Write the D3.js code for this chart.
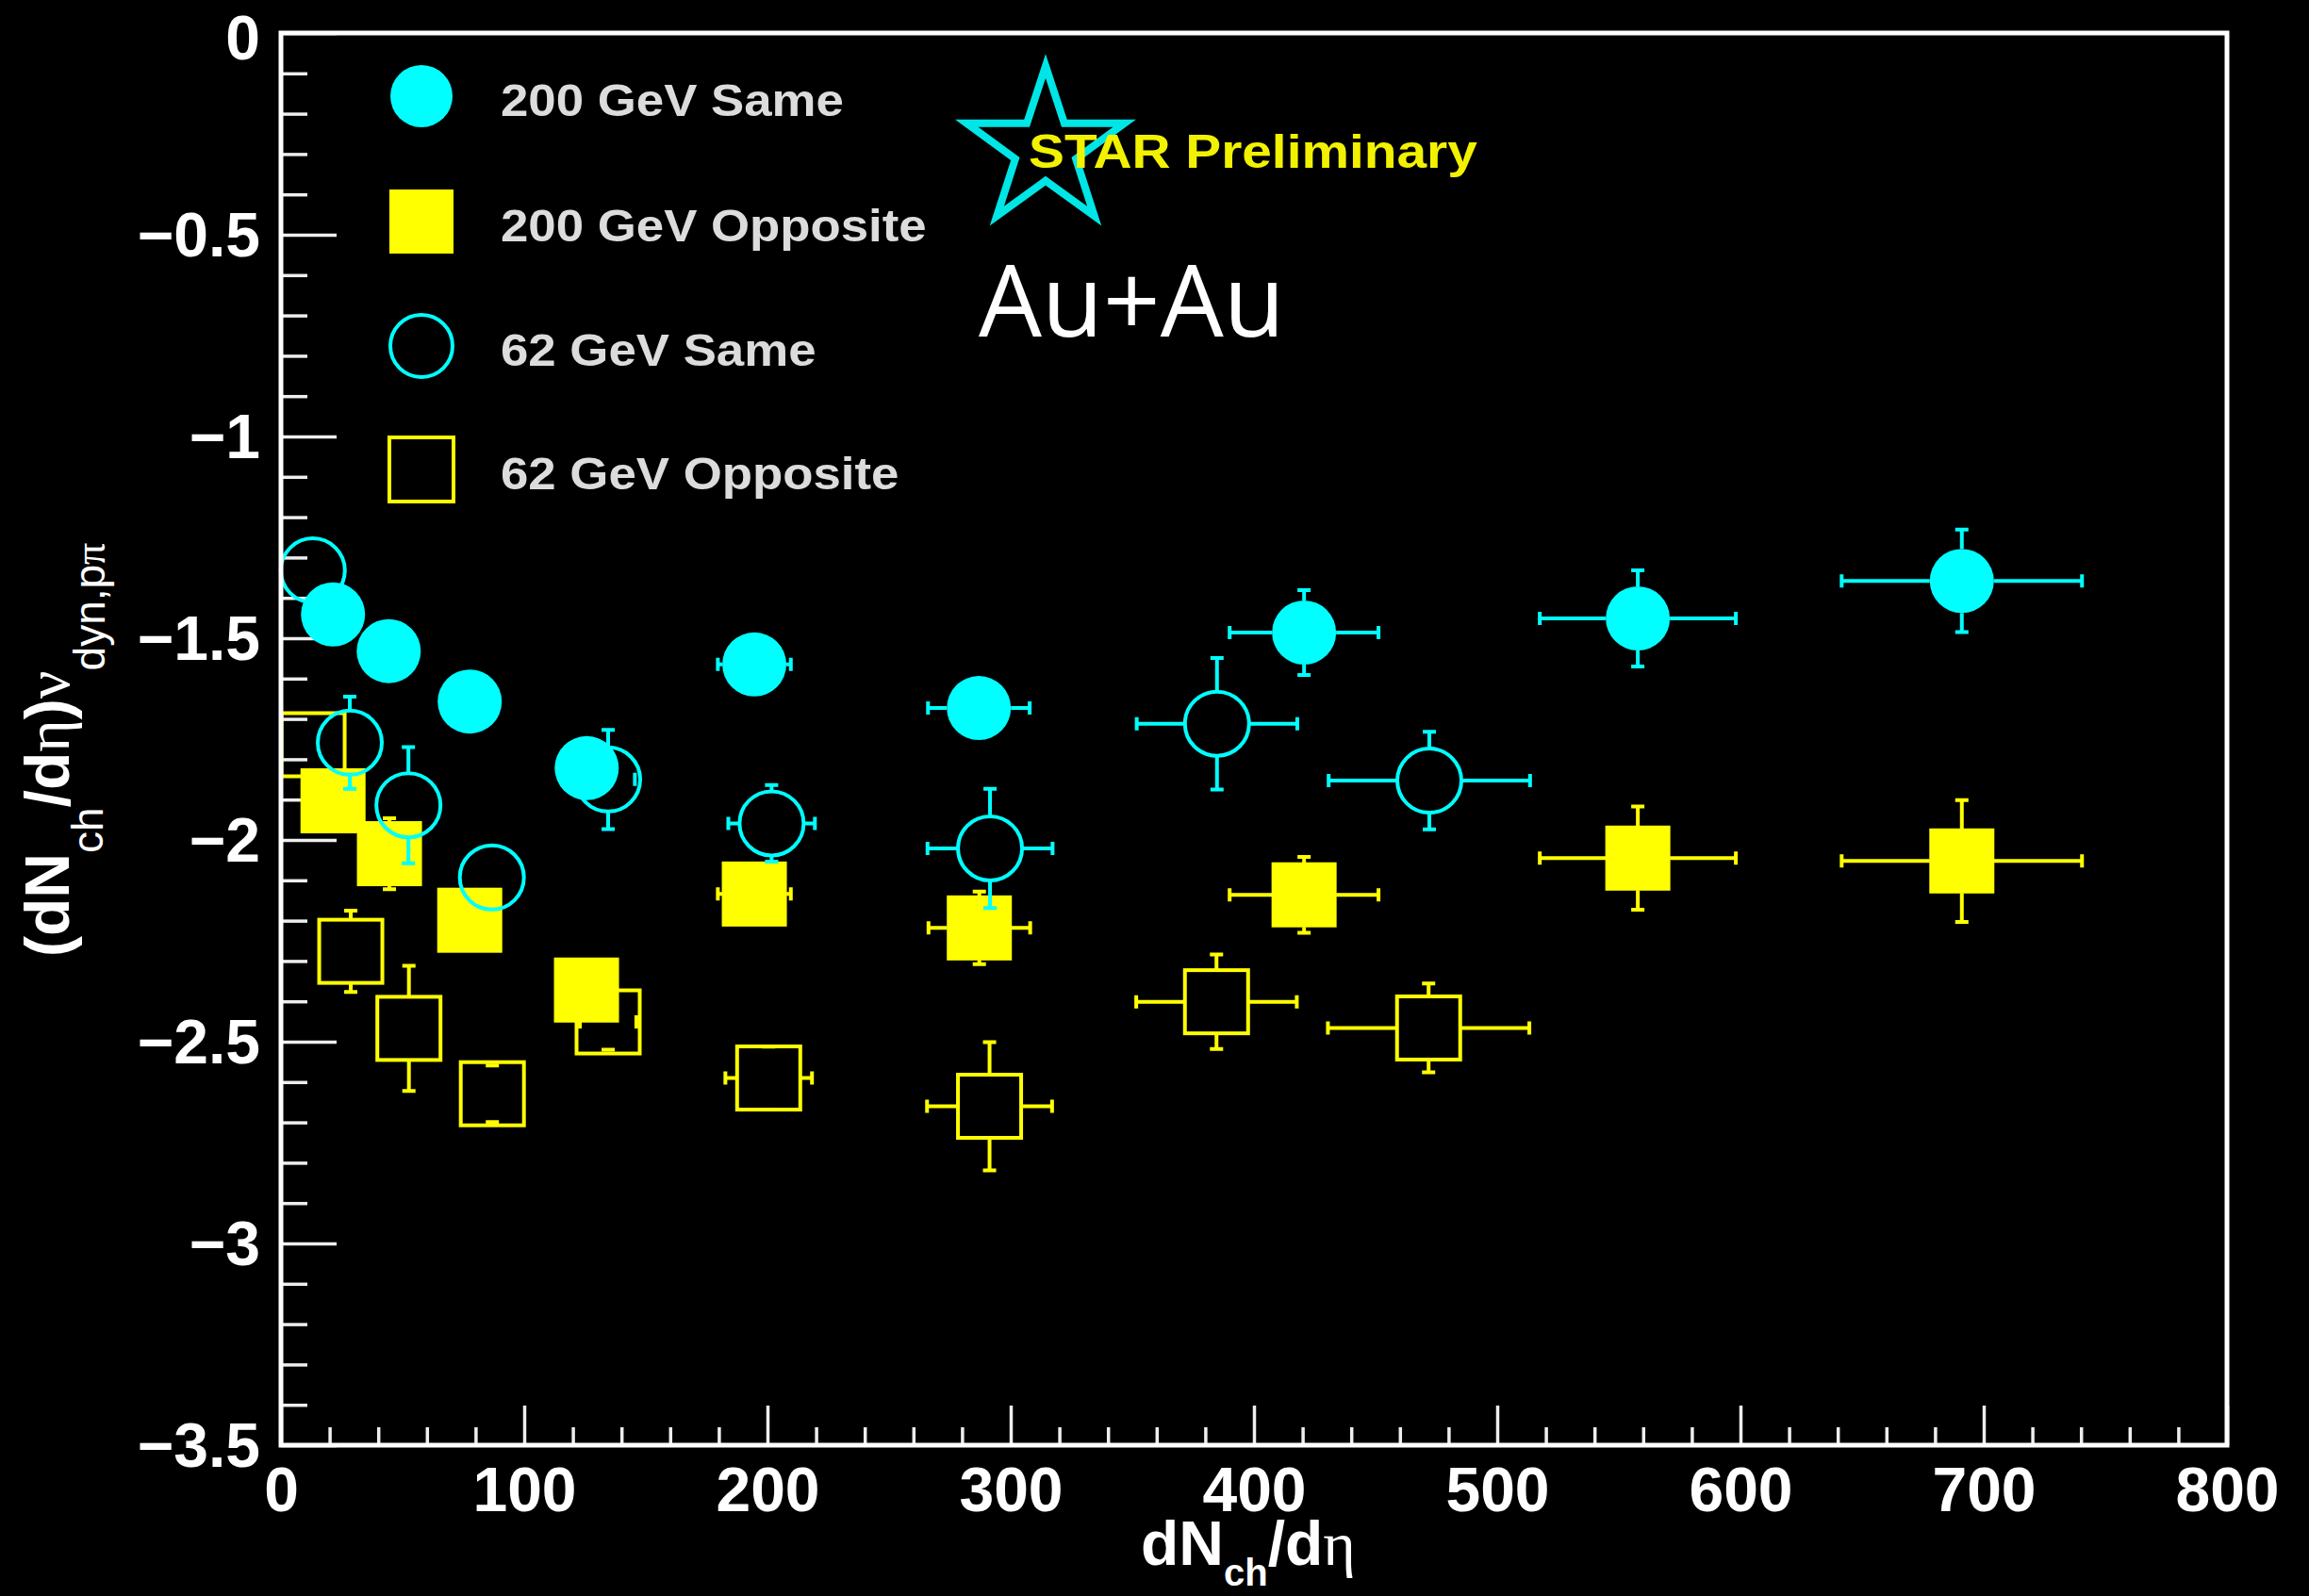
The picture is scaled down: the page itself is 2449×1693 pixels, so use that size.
<!DOCTYPE html>
<html>
<head>
<meta charset="utf-8">
<script src="https://cdn.jsdelivr.net/npm/d3@7"></script>
<style>
  body { margin: 0; background: #000; }
  svg { display: block; }
</style>
</head>
<body>
<div id="chart"></div>
<script>
// 200 GeV, same-sign pairs (filled circles)
const x200Same  = [21.4, 44.3, 77.6, 125.7, 194.6, 286.9, 420.6, 557.8, 691.0];
const y200Same  = [-1.441, -1.532, -1.657, -1.822, -1.565, -1.673, -1.486, -1.451, -1.358];
const ex200Same = [0, 0, 0, 0, 15, 20.9, 30.6, 40.3, 49.4];
const ey200Same = [0.04, 0.04, 0.04, 0.04, 0.05, 0.05, 0.105, 0.119, 0.127];

// 200 GeV, opposite-sign pairs (filled squares)
const x200Opp  = [21.4, 44.6, 77.6, 125.6, 194.6, 287.1, 420.6, 557.8, 691.0];
const y200Opp  = [-1.903, -2.034, -2.199, -2.372, -2.134, -2.218, -2.136, -2.045, -2.052];
const ex200Opp = [0, 0, 0, 0, 15, 20.9, 30.6, 40.3, 49.4];
const ey200Opp = [0.05, 0.088, 0.05, 0.05, 0.05, 0.09, 0.094, 0.128, 0.151];

// 62 GeV, same-sign pairs (open circles)
const x62Same  = [13.1, 28.3, 52.4, 86.7, 134.5, 201.7, 291.5, 384.8, 472.1];
const y62Same  = [-1.332, -1.759, -1.914, -2.093, -1.850, -1.959, -2.021, -1.712, -1.853];
const ex62Same = [0, 0, 0, 0, 11, 17.8, 25.7, 33, 41.4];
const ey62Same = [0, 0.114, 0.144, 0, 0.123, 0.095, 0.148, 0.163, 0.121];

// 62 GeV, opposite-sign pairs (open squares)
const x62Opp  = [13.2, 28.7, 52.6, 86.9, 134.5, 200.5, 291.3, 384.6, 471.8];
const y62Opp  = [-1.764, -2.276, -2.467, -2.629, -2.451, -2.590, -2.660, -2.401, -2.466];
const ex62Opp = [0, 0, 0, 0, 11.6, 17.8, 25.7, 33, 41.4];
const ey62Opp = [0, 0.101, 0.155, 0.07, 0.069, 0.078, 0.159, 0.117, 0.110];

const legendLabels = ["200 GeV Same", "200 GeV Opposite", "62 GeV Same", "62 GeV Opposite"];

const W = 2449, H = 1693;
const plot = { left: 298, right: 2362, top: 35, bottom: 1533 };
const CYAN = "#00ffff", YELLOW = "#ffff00";
const SANS = "'Liberation Sans', Arial, Helvetica, sans-serif";
const SERIF = "'Liberation Serif', 'DejaVu Serif', serif";

const svg = d3.select("#chart").append("svg")
    .attr("width", W)
    .attr("height", H)
    .style("background", "#000");

const x = d3.scaleLinear().domain([0, 800]).range([plot.left, plot.right]);
const y = d3.scaleLinear().domain([-3.5, 0]).range([plot.bottom, plot.top]);

// minor ticks
svg.append("g")
    .attr("transform", `translate(0,${plot.bottom})`)
    .call(d3.axisBottom(x).tickValues(d3.range(0, 801, 20).filter(d => d % 100 !== 0))
        .tickSize(-19).tickSizeOuter(0).tickFormat(""))
    .call(g => g.select(".domain").remove())
    .call(g => g.selectAll("line").attr("stroke", "#eee").attr("stroke-width", 3.5));

svg.append("g")
    .attr("transform", `translate(${plot.left},0)`)
    .call(d3.axisLeft(y).tickValues(d3.range(-35, 1).map(d => d / 10).filter(d => Math.abs(d * 2 - Math.round(d * 2)) > 1e-6))
        .tickSize(-28).tickSizeOuter(0).tickFormat(""))
    .call(g => g.select(".domain").remove())
    .call(g => g.selectAll("line").attr("stroke", "#eee").attr("stroke-width", 3.5));

// major ticks + labels
const fmt = d3.format("~g");
svg.append("g")
    .attr("transform", `translate(0,${plot.bottom})`)
    .call(d3.axisBottom(x).tickValues(d3.range(0, 801, 100))
        .tickSize(-42).tickSizeOuter(0).tickPadding(23).tickFormat(fmt))
    .call(g => g.select(".domain").remove())
    .call(g => g.selectAll("line").attr("stroke", "#eee").attr("stroke-width", 3.5))
    .call(g => g.selectAll("text").attr("fill", "#fff")
        .style("font-family", SANS).style("font-weight", "bold").style("font-size", "66px"));

svg.append("g")
    .attr("transform", `translate(${plot.left},0)`)
    .call(d3.axisLeft(y).tickValues(d3.range(0, 8).map(d => -d / 2))
        .tickSize(-59).tickSizeOuter(0).tickPadding(22).tickFormat(fmt))
    .call(g => g.select(".domain").remove())
    .call(g => g.selectAll("line").attr("stroke", "#eee").attr("stroke-width", 3.5))
    .call(g => g.selectAll("text").attr("fill", "#fff")
        .attr("dy", d => d === 0 ? "0.42em" : "0.34em")
        .style("font-family", SANS).style("font-weight", "bold").style("font-size", "66px"));

// data series
const dataLayer = svg.append("g");

function drawSeries(xs, ys, exs, eys, opt) {
    const pts = xs.map((d, i) => ({ x: d, y: ys[i], ex: exs[i], ey: eys[i] }));
    const g = dataLayer.append("g");
    const half = opt.half;
    const cap = 7;

    g.selectAll("path.err")
        .data(pts)
        .join("path")
        .attr("class", "err")
        .attr("fill", "none")
        .attr("stroke", opt.color)
        .attr("stroke-width", 4)
        .attr("d", p => {
            const cx = x(p.x), cy = y(p.y);
            const ex = x(p.x + p.ex) - cx;
            const ey = cy - y(p.y + p.ey);
            let s = "";
            if (p.ex > 0) {
                if (ex > half) s += `M${cx - ex},${cy}H${cx - half}M${cx + half},${cy}H${cx + ex}`;
                s += `M${cx - ex},${cy - cap}V${cy + cap}M${cx + ex},${cy - cap}V${cy + cap}`;
            }
            if (p.ey > 0) {
                if (ey > half) s += `M${cx},${cy - ey}V${cy - half}M${cx},${cy + half}V${cy + ey}`;
                s += `M${cx - cap},${cy - ey}H${cx + cap}M${cx - cap},${cy + ey}H${cx + cap}`;
            }
            return s || null;
        });

    if (opt.shape === "circle") {
        g.selectAll("circle.mk")
            .data(pts)
            .join("circle")
            .attr("class", "mk")
            .attr("cx", p => x(p.x))
            .attr("cy", p => y(p.y))
            .attr("r", 34)
            .attr("fill", opt.filled ? opt.color : "none")
            .attr("stroke", opt.filled ? "none" : opt.color)
            .attr("stroke-width", 4);
    } else {
        const s = opt.filled ? 69 : 67;
        g.selectAll("rect.mk")
            .data(pts)
            .join("rect")
            .attr("class", "mk")
            .attr("x", p => x(p.x) - s / 2)
            .attr("y", p => y(p.y) - s / 2)
            .attr("width", s)
            .attr("height", s)
            .attr("fill", opt.filled ? opt.color : "none")
            .attr("stroke", opt.filled ? "none" : opt.color)
            .attr("stroke-width", 4);
    }
}

drawSeries(x62Opp, y62Opp, ex62Opp, ey62Opp, { shape: "square", filled: false, color: YELLOW, half: 34 });
drawSeries(x200Opp, y200Opp, ex200Opp, ey200Opp, { shape: "square", filled: true, color: YELLOW, half: 34 });
drawSeries(x62Same, y62Same, ex62Same, ey62Same, { shape: "circle", filled: false, color: CYAN, half: 34 });
drawSeries(x200Same, y200Same, ex200Same, ey200Same, { shape: "circle", filled: true, color: CYAN, half: 34 });

// frame
svg.append("rect")
    .attr("x", plot.left)
    .attr("y", plot.top)
    .attr("width", plot.right - plot.left)
    .attr("height", plot.bottom - plot.top)
    .attr("fill", "none")
    .attr("stroke", "#fff")
    .attr("stroke-width", 5);

// axis titles
const xt = svg.append("text")
    .attr("x", 1210)
    .attr("y", 1660)
    .attr("fill", "#fff")
    .style("font-family", SANS)
    .style("font-weight", "bold")
    .style("font-size", "66px");
xt.append("tspan").text("dN");
xt.append("tspan").attr("dy", 22).style("font-size", "40px").text("ch");
xt.append("tspan").attr("dy", -22).text("/d");
xt.append("tspan").style("font-family", SERIF).style("font-weight", "normal").text("η");

const yt = svg.append("text")
    .attr("transform", "translate(73,1015) rotate(-90)")
    .attr("fill", "#fff")
    .style("font-family", SANS)
    .style("font-weight", "bold")
    .style("font-size", "66px");
yt.append("tspan").text("(dN");
yt.append("tspan").attr("dy", 36).style("font-size", "46px").style("font-weight", "normal").text("ch");
yt.append("tspan").attr("dy", -36).text("/d");
yt.append("tspan").style("font-family", SERIF).style("font-weight", "normal").text("η");
yt.append("tspan").text(")");
yt.append("tspan").style("font-family", SERIF).style("font-weight", "normal").text("ν");
yt.append("tspan").attr("dy", 38).style("font-size", "46px").style("font-weight", "normal").text("dyn,p");
yt.append("tspan").style("font-size", "46px").style("font-family", SERIF).style("font-weight", "normal").text("π");

// legend
const legendY = [102, 235, 367, 498];
const legendStyle = [
    { shape: "circle", filled: true, color: CYAN },
    { shape: "square", filled: true, color: YELLOW },
    { shape: "circle", filled: false, color: CYAN },
    { shape: "square", filled: false, color: YELLOW }
];
const legend = svg.append("g");
legendLabels.forEach((label, i) => {
    const st = legendStyle[i];
    const cy = legendY[i];
    if (st.shape === "circle") {
        legend.append("circle")
            .attr("cx", 447).attr("cy", cy).attr("r", 33)
            .attr("fill", st.filled ? st.color : "none")
            .attr("stroke", st.filled ? "none" : st.color)
            .attr("stroke-width", 4);
    } else {
        legend.append("rect")
            .attr("x", 447 - 34).attr("y", cy - 34).attr("width", 68).attr("height", 68)
            .attr("fill", st.filled ? st.color : "none")
            .attr("stroke", st.filled ? "none" : st.color)
            .attr("stroke-width", 4);
    }
    legend.append("text")
        .attr("transform", `translate(531,${cy + 21}) scale(1.1,1)`)
        .attr("fill", "#dcdcdc")
        .style("font-family", SANS)
        .style("font-weight", "bold")
        .style("font-size", "48px")
        .text(label);
});

// STAR logo
const star = { cx: 1109, cy: 158, R: 88, r: 33.8 };
const starPts = d3.range(10).map(k => {
    const a = -Math.PI / 2 + k * Math.PI / 5;
    const rad = k % 2 === 0 ? star.R : star.r;
    return [star.cx + rad * Math.cos(a), star.cy + rad * Math.sin(a)];
});
svg.append("path")
    .attr("d", d3.line()(starPts) + "Z")
    .attr("fill", "none")
    .attr("stroke", "#00e6e6")
    .attr("stroke-width", 8)
    .attr("stroke-linejoin", "miter");

svg.append("text")
    .attr("transform", "translate(1091,178) scale(1.16,1)")
    .attr("fill", "#f2f200")
    .style("font-family", SANS)
    .style("font-weight", "bold")
    .style("font-size", "49px")
    .text("STAR Preliminary");

svg.append("text")
    .attr("x", 1038)
    .attr("y", 357)
    .attr("fill", "#fff")
    .style("font-family", "'Open Sans', sans-serif")
    .style("font-size", "106px")
    .text("Au+Au");
</script>
</body>
</html>
